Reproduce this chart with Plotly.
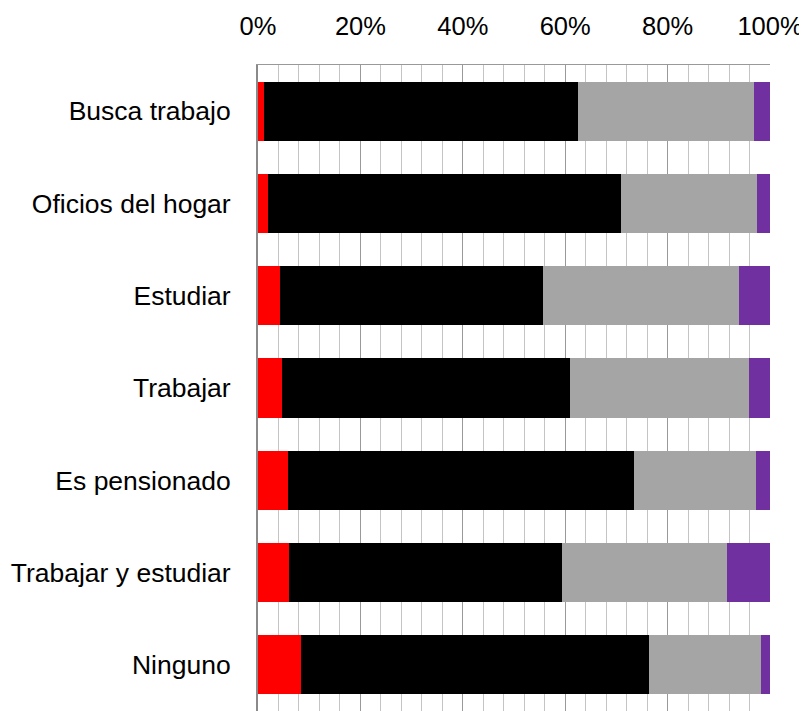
import plotly.graph_objects as go

categories = ["Busca trabajo", "Oficios del hogar", "Estudiar", "Trabajar",
              "Es pensionado", "Trabajar y estudiar", "Ninguno"]
red_vals = [1.1, 2.0, 4.3, 4.6, 5.9, 6.1, 8.4]
black_vals = [61.4, 68.9, 51.4, 56.3, 67.6, 53.2, 67.9]
gray_vals = [34.4, 26.5, 38.2, 34.9, 23.7, 32.3, 22.0]
purple_vals = [3.1, 2.6, 6.1, 4.2, 2.8, 8.4, 1.7]

series = [
    ("s1", red_vals, "#FF0000"),
    ("s2", black_vals, "#000000"),
    ("s3", gray_vals, "#A5A5A5"),
    ("s4", purple_vals, "#7030A0"),
]

fig = go.Figure()
for name, vals, color in series:
    fig.add_trace(go.Bar(
        y=categories, x=vals, orientation="h", name=name,
        marker=dict(color=color, line=dict(width=0)),
        hoverinfo="x+y",
    ))

font_family = "Liberation Sans, Arial, sans-serif"
# The page body has an 8px default margin, so the figure is sized to fit.
fig.update_layout(
    barmode="stack",
    bargap=0.36,
    width=799, height=703,
    margin=dict(l=250, r=37, t=57, b=0, pad=0),
    paper_bgcolor="white", plot_bgcolor="white",
    showlegend=False,
    font=dict(family=font_family, size=25, color="#000000"),
    xaxis=dict(
        side="top", range=[0, 100], dtick=20, tick0=0, ticksuffix="%",
        showgrid=True, gridcolor="#999999", gridwidth=1,
        minor=dict(dtick=4, tick0=0, showgrid=True, gridcolor="#c4c4c4", gridwidth=1),
        showline=True, linecolor="#999999", linewidth=1,
        zeroline=False, ticks="", ticklabelstandoff=19,
        tickfont=dict(size=25.5, family=font_family),
        automargin=False,
        fixedrange=True,
    ),
    yaxis=dict(
        autorange="reversed", showgrid=False, zeroline=False,
        showline=True, linecolor="#8a8a8a", linewidth=2,
        ticks="", ticklabelstandoff=20,
        tickfont=dict(size=26.5, family=font_family),
        automargin=False,
        fixedrange=True,
    ),
)

fig.write_html("out.html")
